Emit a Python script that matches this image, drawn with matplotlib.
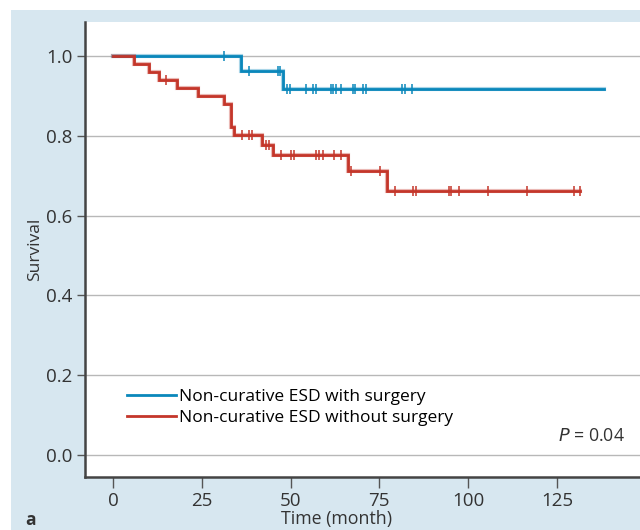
import matplotlib
matplotlib.use("Agg")
import matplotlib.pyplot as plt
from matplotlib.patches import Rectangle
from matplotlib.lines import Line2D

plt.rcParams['font.family'] = ['Open Sans', 'DejaVu Sans']

# Kaplan-Meier step data
blue_times = [0, 36.1, 48.0]
blue_surv = [1.0, 0.962, 0.917]
blue_end = 138.2
blue_censor = [31.2, 38.3, 46.4, 47.1, 49.1, 49.8, 54.2, 56.3, 57.1, 61.3, 62.0,
               62.9, 64.1, 67.6, 68.2, 70.4, 71.1, 81.5, 82.3, 84.3]

red_times = [0, 6.0, 10.0, 13.0, 18.1, 23.9, 31.2, 33.1, 34.2, 42.0, 45.1, 66.3, 77.2]
red_surv = [1.0, 0.98, 0.96, 0.94, 0.92, 0.90, 0.88, 0.822, 0.801, 0.778, 0.753, 0.712, 0.662]
red_end = 131.6
red_censor = [14.9, 36.2, 38.3, 39.0, 43.0, 43.9, 47.2, 50.2, 50.9, 57.2, 57.9, 59.0,
              62.3, 64.2, 67.1, 75.2, 79.3, 84.4, 85.3, 94.5, 95.3, 97.4, 105.6,
              116.6, 129.7, 131.5]

labels = ["Non-curative ESD with surgery", "Non-curative ESD without surgery"]
xticks = [0, 25, 50, 75, 100, 125]
yticks = [0.0, 0.2, 0.4, 0.6, 0.8, 1.0]

BLUE = "#0a87bb"
RED = "#c4362a"
BG = "#d7e7f0"
TXT = "#333333"

fig = plt.figure(figsize=(6.4, 5.3), dpi=100)
fig.patch.set_facecolor("white")
fig.patches.append(Rectangle((11/640, 0), 1 - 11/640, (530 - 10)/530,
                             transform=fig.transFigure, facecolor=BG,
                             edgecolor="none", zorder=-10))

ax = fig.add_axes([85/640, 53/530, 1 - 85/640, (477 - 22)/530])
ax.set_facecolor("white")


def surv_at(times, surv, t):
    s = surv[0]
    for ti, si in zip(times, surv):
        if t >= ti:
            s = si
    return s


for times, surv, end, cens, col in [(blue_times, blue_surv, blue_end, blue_censor, BLUE),
                                    (red_times, red_surv, red_end, red_censor, RED)]:
    xs = list(times) + [end]
    ys = list(surv) + [surv[-1]]
    ax.step(xs, ys, where="post", color=col, lw=3.0, alpha=0.35, zorder=3,
            solid_joinstyle="miter")
    ax.step(xs, ys, where="post", color=col, lw=2.0, zorder=4,
            solid_joinstyle="miter")
    cy = [surv_at(times, surv, c) for c in cens]
    ax.plot(cens, cy, ls="none", marker="|", ms=7.5, mew=1.1, color=col, zorder=5)

ax.set_xlim(-7.9, 148.4)
ax.set_ylim(-0.055, 1.085)
ax.set_xticks(xticks)
ax.set_xticklabels([str(v) for v in xticks])
ax.set_yticks(yticks)
ax.set_yticklabels([f"{v:.1f}" for v in yticks])
ax.grid(axis="y", color="#b8b8b8", lw=1.0, zorder=1)
ax.set_axisbelow(True)

for s in ["top", "right"]:
    ax.spines[s].set_visible(False)
for s in ["left", "bottom"]:
    ax.spines[s].set_color("#444444")
    ax.spines[s].set_linewidth(1.8)

ax.tick_params(axis="both", colors="#555555", labelcolor=TXT,
               labelsize=13.5, width=1.0)
ax.tick_params(axis="y", length=6, pad=3)
ax.tick_params(axis="x", length=8, pad=3)

ax.set_ylabel("Survival", fontsize=12.5, color=TXT)
ax.yaxis.set_label_coords((43 - 85) / 555, 0.5)
ax.set_xlabel("Time (month)", fontsize=12.8, color=TXT)
ax.xaxis.set_label_coords((337 - 85) / 555, (477 - 510) / 455)

handles = [Line2D([], [], color=BLUE, lw=2.0), Line2D([], [], color=RED, lw=2.0)]
ax.legend(handles, labels, loc="upper left", bbox_to_anchor=((127 - 85) / 555, (477 - 389) / 455),
          frameon=False, fontsize=12.5, handlelength=2.8, handletextpad=0.2,
          labelspacing=0.28, borderaxespad=0, borderpad=0)

ax.text((625 - 85) / 555, (477 - 436) / 455, r"$P$ = 0.04", transform=ax.transAxes,
        ha="right", va="center", fontsize=12.8, color=TXT)
fig.text(25/640, 1 - 520/530, "a", fontsize=12.5, fontweight="bold", color=TXT,
         ha="left", va="center")

fig.savefig("out.png", dpi=100)
